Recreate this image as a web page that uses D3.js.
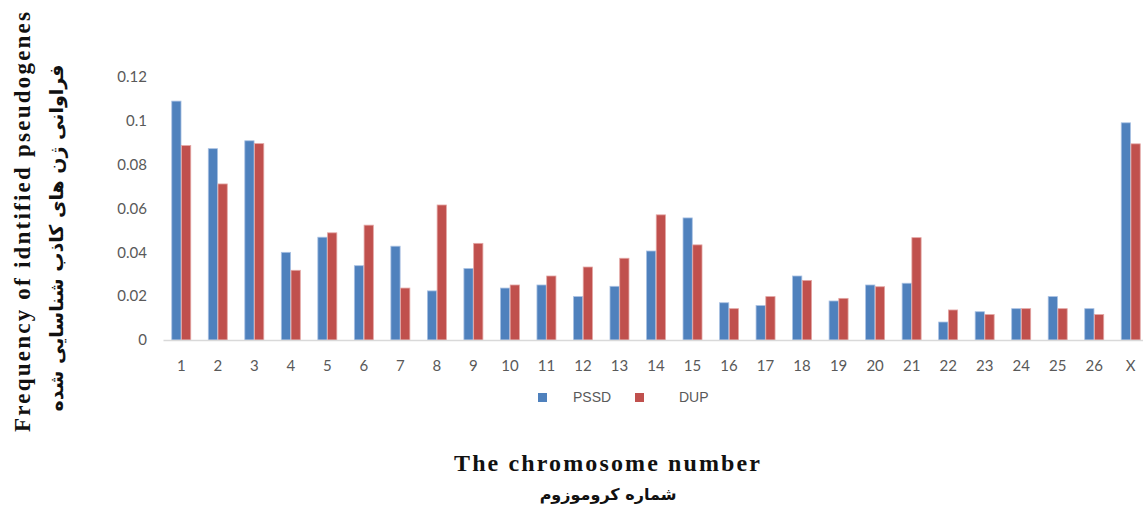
<!DOCTYPE html>
<html>
<head>
<meta charset="utf-8">
<script src="https://cdn.jsdelivr.net/npm/d3@7"></script>
<style>
  body { margin: 0; background: #fff; }
  svg { display: block; }
</style>
</head>
<body>
<div id="chart"></div>
<script>
// chromosome names and the two series
var chromosomes = ["1", "2", "3", "4", "5", "6", "7", "8", "9", "10", "11", "12", "13", "14",
    "15", "16", "17", "18", "19", "20", "21", "22", "23", "24", "25", "26", "X"];
var pssd = [0.109, 0.0873, 0.0909, 0.0400, 0.0469, 0.0339, 0.0428, 0.0224, 0.0326, 0.0237,
    0.0251, 0.0198, 0.0245, 0.0406, 0.0557, 0.0170, 0.0157, 0.0292, 0.0178, 0.0251,
    0.0259, 0.0082, 0.0129, 0.0143, 0.0198, 0.0143, 0.0991];
var dup = [0.0887, 0.0712, 0.0896, 0.0318, 0.0489, 0.0524, 0.0237, 0.0616, 0.0441, 0.0251,
    0.0292, 0.0333, 0.0373, 0.0571, 0.0434, 0.0143, 0.0198, 0.0272, 0.0190, 0.0243,
    0.0467, 0.0137, 0.0116, 0.0143, 0.0143, 0.0116, 0.0895];
var seriesNames = ["PSSD", "DUP"];
var yTicks = [0, 0.02, 0.04, 0.06, 0.08, 0.1, 0.12];

var width = 1143,
    height = 508;
var colors = ["#4f81bd", "#c0504d"];

var svg = d3.select("#chart").append("svg")
    .attr("width", width)
    .attr("height", height);

var x0 = d3.scaleBand()
    .domain(chromosomes)
    .range([163, 1149])
    .paddingInner(0.48)
    .paddingOuter(0.24);

var x1 = d3.scaleBand()
    .domain(seriesNames)
    .range([0, x0.bandwidth()])
    .paddingInner(0.05);

var y = d3.scaleLinear()
    .domain([0, 0.12])
    .range([340, 77]);

// y axis, labels only
var yAxis = svg.append("g")
    .attr("transform", "translate(147,0)")
    .call(d3.axisLeft(y).tickValues(yTicks).tickSize(0).tickPadding(0)
        .tickFormat(function (d) { return d === 0 ? "0" : String(+d.toFixed(2)); }));
yAxis.select(".domain").remove();
yAxis.selectAll("text")
    .attr("font-family", "Lato, 'Open Sans', sans-serif")
    .attr("font-size", 15)
    .attr("fill", "#595959");

// bars
var groups = svg.append("g").selectAll("g")
    .data(chromosomes)
    .enter().append("g")
    .attr("transform", function (d) { return "translate(" + x0(d) + ",0)"; });

groups.selectAll("rect")
    .data(function (d, i) {
        return [{ key: "PSSD", v: pssd[i] }, { key: "DUP", v: dup[i] }];
    })
    .enter().append("rect")
    .attr("x", function (d) { return x1(d.key); })
    .attr("y", function (d) { return y(d.v); })
    .attr("width", x1.bandwidth())
    .attr("height", function (d) { return y(0) - y(d.v); })
    .attr("fill", function (d) { return colors[seriesNames.indexOf(d.key)]; })
    .attr("stroke", function (d) { return d.key === "PSSD" ? "#a9c1e3" : "#e3a6a4"; })
    .attr("stroke-width", 0.8);

// x axis
var xAxis = svg.append("g")
    .attr("transform", "translate(0," + y(0) + ")")
    .call(d3.axisBottom(x0).tickSize(0).tickPadding(20));
xAxis.select(".domain")
    .attr("stroke", "#d9d9d9")
    .attr("stroke-width", 1.5);
xAxis.selectAll("text")
    .attr("font-family", "Lato, 'Open Sans', sans-serif")
    .attr("font-size", 15)
    .attr("fill", "#595959");

// legend
var legend = svg.append("g").selectAll("g")
    .data(seriesNames)
    .enter().append("g")
    .attr("transform", function (d, i) { return "translate(" + (538 + i * 97) + ",393)"; });
legend.append("rect")
    .attr("width", 9)
    .attr("height", 9)
    .attr("fill", function (d, i) { return colors[i]; });
legend.append("text")
    .attr("x", function (d, i) { return i === 0 ? 35 : 44; })
    .attr("y", 9)
    .attr("font-family", "'Liberation Sans', Arial, sans-serif")
    .attr("font-size", 14)
    .attr("fill", "#595959")
    .text(function (d) { return d; });

// axis titles
svg.append("text")
    .attr("x", 607)
    .attr("y", 471)
    .attr("text-anchor", "middle")
    .attr("font-family", "'Liberation Serif', 'Times New Roman', serif")
    .attr("font-weight", "bold")
    .attr("font-size", 24)
    .attr("textLength", 306)
    .attr("lengthAdjust", "spacing")
    .attr("fill", "#111")
    .text("The chromosome number");
svg.append("text")
    .attr("x", 608)
    .attr("y", 500)
    .attr("text-anchor", "middle")
    .attr("direction", "rtl")
    .attr("font-family", "'DejaVu Sans', sans-serif")
    .attr("font-weight", "bold")
    .attr("font-size", 16)
    .attr("fill", "#111")
    .text("شماره کروموزوم");

svg.append("text")
    .attr("transform", "translate(30,222) rotate(-90)")
    .attr("text-anchor", "middle")
    .attr("font-family", "'Liberation Serif', 'Times New Roman', serif")
    .attr("font-weight", "bold")
    .attr("font-size", 23)
    .attr("textLength", 420)
    .attr("lengthAdjust", "spacing")
    .attr("fill", "#111")
    .text("Frequency of idntified pseudogenes");
svg.append("text")
    .attr("transform", "translate(63,238) rotate(-90)")
    .attr("text-anchor", "middle")
    .attr("direction", "rtl")
    .attr("font-family", "'DejaVu Sans', sans-serif")
    .attr("font-weight", "bold")
    .attr("font-size", 19)
    .attr("fill", "#111")
    .text("فراوانی ژن های کاذب شناسایی شده");
</script>
</body>
</html>
